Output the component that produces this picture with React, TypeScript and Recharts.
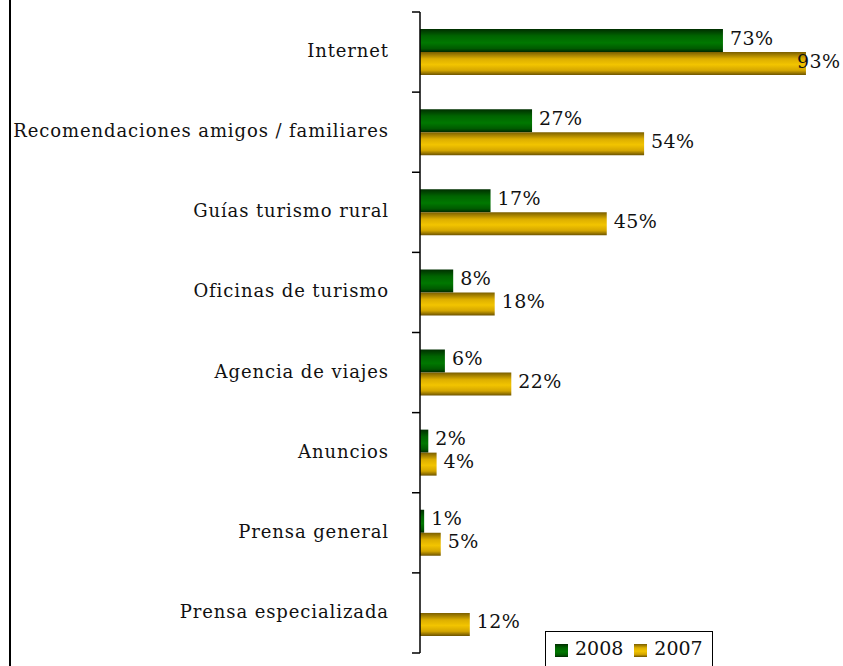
import React from "react";
import { BarChart, Bar, XAxis, YAxis, LabelList } from "recharts";

const categories = [
  "Internet",
  "Recomendaciones amigos / familiares",
  "Guías turismo rural",
  "Oficinas de turismo",
  "Agencia de viajes",
  "Anuncios",
  "Prensa general",
  "Prensa especializada",
];
const values2008 = [73, 27, 17, 8, 6, 2, 1, 0];
const values2007 = [93, 54, 45, 18, 22, 4, 5, 12];
const seriesNames = ["2008", "2007"];

const data = categories.map((name, i) => ({
  name,
  v2008: values2008[i],
  v2007: values2007[i],
}));

const FONT = "'DejaVu Serif', serif";
const TICK_SIZE = 8;
const TICK_MARGIN = 24;

const CategoryTick = (props: any) => {
  const { x, y, payload, index, visibleTicksCount } = props;
  const half = payload.offset || 40;
  const lineX = x + TICK_SIZE + TICK_MARGIN;
  const last = index === (visibleTicksCount ?? categories.length) - 1;
  return (
    <g>
      <text x={x + 1} y={y} dy={5} textAnchor="end" fontFamily={FONT} fontSize={18} letterSpacing={0.9} fill="#111">
        {payload.value}
      </text>
      <line x1={lineX - TICK_SIZE} x2={lineX} y1={y - half} y2={y - half} stroke="#000" strokeWidth={1.5} />
      {last && (
        <line x1={lineX - TICK_SIZE} x2={lineX} y1={y + half} y2={y + half} stroke="#000" strokeWidth={1.5} />
      )}
    </g>
  );
};

// keep the label inside the picture (the reference pulls the 93% label back over its bar)
const ValueLabel = (props: any) => {
  const { x, y, width, height, value } = props;
  if (!value) return null;
  const tx = Math.min(x + width + 7, 797);
  return (
    <text x={tx} y={y + height / 2} dy={4} fontFamily={FONT} fontSize={19} letterSpacing={0.4} fill="#111">
      {value}%
    </text>
  );
};

const Swatch = ({ id }: { id: string }) => (
  <svg width={13} height={13} style={{ verticalAlign: "middle", marginRight: 7 }}>
    <rect width={13} height={13} fill={`url(#${id})`} />
  </svg>
);

export default function App() {
  return (
    <div style={{ position: "absolute", left: 0, top: 0, width: 843, height: 666, background: "#fff", overflow: "hidden" }}>
      <div style={{ position: "absolute", left: 9, top: 0, width: 0, height: 666, borderLeft: "2px solid #000" }} />
      <BarChart
        width={843}
        height={666}
        data={data}
        layout="vertical"
        margin={{ top: 12, right: 8, bottom: 13, left: 10 }}
        barSize={23}
        barGap={0}
      >
        <defs>
          <linearGradient id="gGreen" x1="0" y1="0" x2="0" y2="1">
            <stop offset="0%" stopColor="#002e00" />
            <stop offset="30%" stopColor="#006400" />
            <stop offset="60%" stopColor="#007800" />
            <stop offset="85%" stopColor="#005a00" />
            <stop offset="100%" stopColor="#002800" />
          </linearGradient>
          <linearGradient id="gGold" x1="0" y1="0" x2="0" y2="1">
            <stop offset="0%" stopColor="#7a5e00" />
            <stop offset="30%" stopColor="#dcae00" />
            <stop offset="55%" stopColor="#f2c400" />
            <stop offset="80%" stopColor="#d4a600" />
            <stop offset="100%" stopColor="#6e5400" />
          </linearGradient>
        </defs>
        <XAxis type="number" domain={[0, 100]} hide />
        <YAxis
          type="category"
          dataKey="name"
          width={410}
          axisLine={{ stroke: "#000", strokeWidth: 1.5 }}
          tickLine={false}
          tickSize={TICK_SIZE}
          tickMargin={TICK_MARGIN}
          tick={<CategoryTick />}
          interval={0}
        />
        <Bar dataKey="v2008" name={seriesNames[0]} fill="url(#gGreen)" isAnimationActive={false}>
          <LabelList dataKey="v2008" content={<ValueLabel />} />
        </Bar>
        <Bar dataKey="v2007" name={seriesNames[1]} fill="url(#gGold)" isAnimationActive={false}>
          <LabelList dataKey="v2007" content={<ValueLabel />} />
        </Bar>
      </BarChart>
      <div
        style={{
          position: "absolute",
          left: 545,
          top: 631,
          width: 168,
          height: 50,
          border: "1.5px solid #000",
          background: "#fff",
          fontFamily: FONT,
          fontSize: 19,
          color: "#111",
          padding: "5px 0 0 9px",
          boxSizing: "border-box",
          whiteSpace: "nowrap",
        }}
      >
        <span style={{ marginRight: 11 }}>
          <Swatch id="gGreen" />
          {seriesNames[0]}
        </span>
        <span>
          <Swatch id="gGold" />
          {seriesNames[1]}
        </span>
      </div>
    </div>
  );
}
